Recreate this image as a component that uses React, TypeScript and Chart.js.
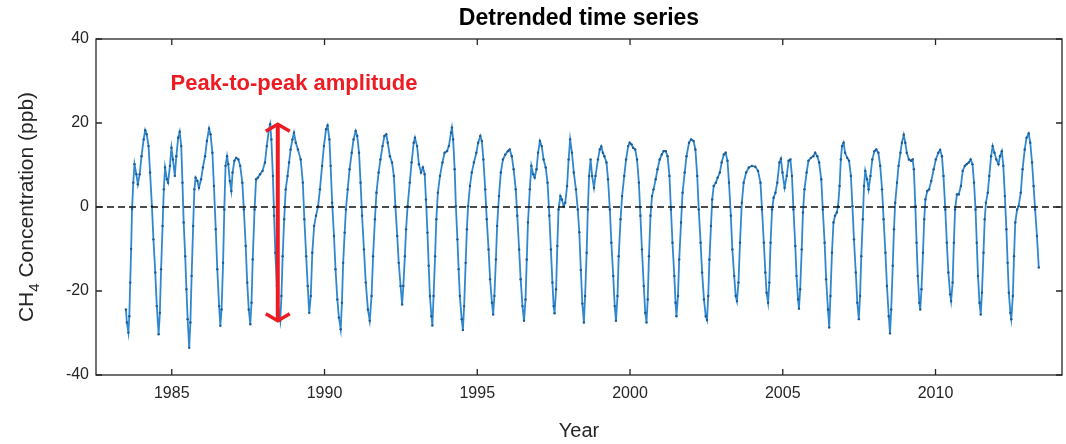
import { useEffect, useRef } from "react";
import { Chart, registerables } from "chart.js";

Chart.register(...registerables);

// Decimal year of each sample (one row per calendar year)
const sampleYears: number[] = [
  1983.5, 1983.53, 1983.58, 1983.61, 1983.64, 1983.67, 1983.7, 1983.74, 1983.78, 1983.84, 1983.89, 1983.95,
  1984.01, 1984.08, 1984.13, 1984.18, 1984.24, 1984.29, 1984.35, 1984.4, 1984.46, 1984.51, 1984.57, 1984.61, 1984.65, 1984.7, 1984.74, 1984.78, 1984.84, 1984.88, 1984.94, 1984.99,
  1985.04, 1985.1, 1985.15, 1985.21, 1985.26, 1985.31, 1985.35, 1985.39, 1985.44, 1985.48, 1985.52, 1985.57, 1985.61, 1985.65, 1985.7, 1985.74, 1985.78, 1985.84, 1985.89, 1985.96,
  1986.02, 1986.09, 1986.15, 1986.22, 1986.27, 1986.33, 1986.38, 1986.44, 1986.49, 1986.55, 1986.59, 1986.63, 1986.68, 1986.72, 1986.76, 1986.81, 1986.85, 1986.9, 1986.95, 1986.99,
  1987.05, 1987.11, 1987.18, 1987.24, 1987.31, 1987.36, 1987.42, 1987.47, 1987.52, 1987.57, 1987.61, 1987.65, 1987.71, 1987.76, 1987.82, 1987.89, 1987.97,
  1988.05, 1988.11, 1988.18, 1988.22, 1988.26, 1988.31, 1988.35, 1988.39, 1988.44, 1988.49, 1988.55, 1988.59, 1988.63, 1988.68, 1988.73, 1988.79, 1988.84, 1988.89, 1988.95,
  1989.0, 1989.06, 1989.13, 1989.22, 1989.29, 1989.34, 1989.4, 1989.45, 1989.5, 1989.55, 1989.6, 1989.66, 1989.72, 1989.79, 1989.85, 1989.92, 1989.98,
  1990.05, 1990.1, 1990.16, 1990.2, 1990.25, 1990.31, 1990.36, 1990.42, 1990.47, 1990.53, 1990.57, 1990.61, 1990.66, 1990.7, 1990.76, 1990.82, 1990.89, 1990.95,
  1991.02, 1991.07, 1991.13, 1991.18, 1991.23, 1991.29, 1991.35, 1991.42, 1991.48, 1991.54, 1991.59, 1991.65, 1991.7, 1991.77, 1991.83, 1991.9, 1991.96,
  1992.02, 1992.07, 1992.14, 1992.21, 1992.27, 1992.32, 1992.38, 1992.43, 1992.49, 1992.54, 1992.58, 1992.63, 1992.67, 1992.72, 1992.79, 1992.85, 1992.92, 1992.96,
  1993.03, 1993.09, 1993.16, 1993.22, 1993.28, 1993.32, 1993.37, 1993.41, 1993.45, 1993.5, 1993.53, 1993.57, 1993.62, 1993.66, 1993.71, 1993.78, 1993.86, 1993.93,
  1994.01, 1994.07, 1994.14, 1994.17, 1994.21, 1994.26, 1994.3, 1994.35, 1994.39, 1994.43, 1994.49, 1994.53, 1994.57, 1994.62, 1994.66, 1994.7, 1994.76, 1994.82, 1994.89, 1994.97,
  1995.03, 1995.1, 1995.15, 1995.2, 1995.26, 1995.31, 1995.37, 1995.42, 1995.48, 1995.52, 1995.56, 1995.61, 1995.65, 1995.71, 1995.77, 1995.84, 1995.92,
  1996.0, 1996.06, 1996.13, 1996.19, 1996.26, 1996.31, 1996.37, 1996.42, 1996.48, 1996.53, 1996.58, 1996.62, 1996.66, 1996.72, 1996.77, 1996.83, 1996.88, 1996.94, 1996.99,
  1997.05, 1997.11, 1997.17, 1997.24, 1997.3, 1997.36, 1997.41, 1997.46, 1997.5, 1997.53, 1997.58, 1997.62, 1997.66, 1997.72, 1997.77, 1997.83, 1997.88, 1997.94, 1997.99,
  1998.04, 1998.1, 1998.16, 1998.23, 1998.29, 1998.34, 1998.39, 1998.44, 1998.49, 1998.53, 1998.58, 1998.62, 1998.66, 1998.71, 1998.76, 1998.82, 1998.87, 1998.95,
  1999.01, 1999.06, 1999.11, 1999.16, 1999.23, 1999.28, 1999.34, 1999.39, 1999.45, 1999.5, 1999.54, 1999.59, 1999.63, 1999.69, 1999.74, 1999.81, 1999.87, 1999.94, 1999.99,
  2000.05, 2000.1, 2000.17, 2000.23, 2000.29, 2000.34, 2000.39, 2000.45, 2000.5, 2000.54, 2000.58, 2000.62, 2000.67, 2000.72, 2000.77, 2000.84, 2000.9, 2000.97,
  2001.04, 2001.1, 2001.17, 2001.23, 2001.29, 2001.34, 2001.39, 2001.45, 2001.49, 2001.52, 2001.57, 2001.61, 2001.67, 2001.72, 2001.79, 2001.85, 2001.93,
  2002.0, 2002.08, 2002.14, 2002.2, 2002.25, 2002.31, 2002.36, 2002.42, 2002.48, 2002.52, 2002.56, 2002.6, 2002.65, 2002.69, 2002.74, 2002.81, 2002.87, 2002.94,
  2003.0, 2003.07, 2003.13, 2003.19, 2003.24, 2003.3, 2003.35, 2003.41, 2003.46, 2003.5, 2003.55, 2003.6, 2003.66, 2003.72, 2003.8, 2003.89, 2003.99,
  2004.1, 2004.19, 2004.27, 2004.32, 2004.38, 2004.43, 2004.47, 2004.52, 2004.56, 2004.6, 2004.65, 2004.7, 2004.76, 2004.82, 2004.89, 2004.94, 2004.99,
  2005.06, 2005.13, 2005.19, 2005.25, 2005.3, 2005.35, 2005.41, 2005.45, 2005.5, 2005.53, 2005.57, 2005.62, 2005.66, 2005.71, 2005.78, 2005.84, 2005.92,
  2006.0, 2006.06, 2006.13, 2006.19, 2006.26, 2006.31, 2006.37, 2006.42, 2006.48, 2006.52, 2006.56, 2006.61, 2006.66, 2006.71, 2006.77, 2006.81, 2006.86, 2006.9, 2006.94, 2006.99,
  2007.04, 2007.11, 2007.17, 2007.23, 2007.28, 2007.33, 2007.39, 2007.44, 2007.49, 2007.53, 2007.57, 2007.62, 2007.66, 2007.7, 2007.76, 2007.81, 2007.87, 2007.93,
  2008.0, 2008.06, 2008.13, 2008.19, 2008.25, 2008.3, 2008.36, 2008.41, 2008.47, 2008.51, 2008.55, 2008.6, 2008.64, 2008.68, 2008.74, 2008.79, 2008.85, 2008.9, 2008.96,
  2009.01, 2009.06, 2009.13, 2009.2, 2009.25, 2009.29, 2009.34, 2009.38, 2009.42, 2009.47, 2009.5, 2009.54, 2009.59, 2009.63, 2009.67, 2009.73, 2009.79, 2009.86, 2009.94,
  2010.01, 2010.09, 2010.15, 2010.21, 2010.26, 2010.32, 2010.37, 2010.42, 2010.48, 2010.51, 2010.56, 2010.6, 2010.64, 2010.7, 2010.76, 2010.83, 2010.89, 2010.96,
  2011.02, 2011.09, 2011.15, 2011.21, 2011.26, 2011.31, 2011.35, 2011.39, 2011.44, 2011.48, 2011.52, 2011.57, 2011.61, 2011.65, 2011.71, 2011.76, 2011.82, 2011.87, 2011.93, 2011.99,
  2012.06, 2012.11, 2012.17, 2012.22, 2012.27, 2012.32, 2012.36, 2012.4, 2012.45, 2012.48, 2012.53, 2012.57, 2012.61, 2012.67, 2012.72, 2012.79, 2012.85, 2012.92, 2012.98,
  2013.05, 2013.1, 2013.16, 2013.21, 2013.26, 2013.32, 2013.38,
];

// Detrended CH4 concentration (ppb), same row layout as sampleYears
const ch4Detrended: number[] = [
  -24.4, -27.5, -29.9, -26.0, -18.0, -10.0, -0.5, 5.8, 10.2, 7.8, 5.4, 7.8,
  12.1, 16.1, 18.3, 17.3, 14.5, 8.2, 0.2, -7.7, -15.6, -23.6, -30.3, -25.2, -14.8, -4.5, 4.2, 9.4, 6.6, 5.8, 9.8, 14.1,
  11.3, 7.4, 12.1, 16.5, 17.9, 14.5, 5.8, -3.7, -11.7, -19.6, -26.7, -33.5, -27.5, -16.4, -4.5, 4.2, 7.0, 6.2, 4.6, 6.6,
  9.4, 12.1, 15.7, 18.7, 17.3, 12.9, 5.0, -5.3, -14.8, -23.6, -28.3, -24.4, -13.3, -0.6, 9.8, 12.1, 10.2, 6.2, 3.8, 8.2,
  11.0, 11.7, 11.3, 9.8, 5.8, -0.6, -9.3, -18.0, -24.4, -27.9, -22.8, -12.5, -0.6, 6.6, 7.0, 7.8, 8.6,
  10.6, 14.5, 18.5, 19.7, 16.1, 7.4, -2.1, -10.9, -18.8, -24.4, -27.1, -21.2, -11.7, -2.9, 4.2, 7.4, 10.6, 13.7, 16.1,
  17.7, 15.3, 13.7, 11.3, 5.8, -2.9, -11.7, -18.8, -25.2, -21.2, -10.9, -4.5, -2.1, 0.2, 4.2, 9.8, 14.5,
  18.5, 19.4, 16.1, 9.8, 1.0, -6.9, -14.8, -22.0, -26.3, -29.1, -22.8, -13.3, -6.1, -0.6, 4.2, 9.0, 12.9, 16.1,
  18.1, 16.9, 12.9, 5.8, -2.1, -10.1, -18.0, -24.4, -27.1, -21.2, -11.7, -2.9, 3.4, 8.2, 11.3, 14.5, 16.9,
  17.3, 15.3, 12.1, 10.6, 7.4, 0.2, -6.9, -13.3, -18.8, -23.2, -18.8, -11.7, -5.3, 0.2, 5.8, 10.6, 15.3, 16.5,
  14.5, 10.2, 8.2, 9.4, 7.8, 1.8, -6.1, -14.0, -21.2, -26.0, -28.2, -21.2, -11.7, -2.9, 3.4, 7.4, 10.6, 12.9,
  13.3, 14.5, 17.7, 18.9, 16.1, 9.0, 0.2, -7.7, -14.8, -21.2, -26.7, -29.3, -23.6, -13.3, -5.3, 0.2, 5.0, 8.2, 10.6, 12.9,
  15.3, 16.9, 15.7, 11.3, 4.2, -2.9, -10.1, -17.2, -22.8, -25.6, -21.2, -12.5, -4.5, 2.6, 8.2, 11.3, 12.5,
  13.3, 13.7, 12.1, 9.0, 4.2, -2.1, -10.1, -17.2, -23.6, -27.1, -22.0, -12.5, -3.7, 4.2, 9.8, 7.8, 7.0, 9.0, 12.9,
  15.7, 14.5, 11.3, 9.4, 5.8, -2.1, -10.1, -18.0, -23.6, -25.3, -19.6, -9.3, -0.6, 2.6, 1.8, 0.2, 1.0, 5.0, 11.3,
  16.1, 12.9, 8.2, 4.2, -0.6, -6.0, -15.0, -23.0, -27.5, -21.2, -10.9, -0.6, 7.4, 11.3, 7.4, 4.6, 7.4, 11.3,
  13.7, 14.4, 12.9, 12.1, 10.6, 6.6, -0.6, -8.5, -16.4, -23.6, -27.1, -21.2, -11.7, -2.9, 2.6, 7.4, 11.3, 14.5, 15.3,
  14.9, 14.1, 13.7, 11.3, 5.8, -2.1, -10.1, -18.8, -25.2, -27.5, -22.0, -11.7, -2.1, 2.6, 4.2, 6.6, 9.0, 11.3,
  12.5, 13.3, 13.3, 12.1, 7.4, -0.6, -8.5, -16.4, -22.8, -26.0, -21.2, -12.5, -3.7, 3.4, 8.2, 12.1, 15.3,
  16.1, 15.7, 13.7, 7.4, -0.6, -8.5, -15.6, -22.0, -26.0, -26.9, -21.2, -12.5, -4.5, 1.8, 5.0, 5.8, 7.0, 8.2,
  10.6, 12.5, 12.9, 11.0, 5.8, -2.1, -10.1, -16.4, -21.2, -22.4, -18.0, -8.5, 1.0, 5.8, 8.2, 9.4, 9.8,
  9.6, 8.6, 5.8, -0.6, -8.5, -15.6, -20.4, -22.8, -18.0, -8.5, -0.6, 2.2, 3.4, 5.8, 10.6, 11.5, 8.2,
  4.6, 7.4, 11.0, 11.3, 7.4, -0.6, -9.3, -16.4, -22.0, -24.2, -19.6, -10.1, -1.3, 4.2, 8.2, 11.0, 11.7,
  12.1, 12.9, 12.1, 10.6, 6.6, -0.6, -8.5, -17.2, -24.4, -28.7, -21.2, -10.9, -3.7, -2.1, -1.3, 0.2, 5.0, 11.3, 14.5, 15.3,
  12.9, 11.7, 11.0, 7.4, 0.2, -7.7, -15.6, -22.8, -26.7, -21.2, -11.7, -2.9, 5.0, 8.6, 6.6, 4.2, 7.4, 11.3,
  13.3, 13.7, 12.9, 9.8, 4.2, -2.9, -10.9, -18.8, -26.0, -30.1, -24.4, -14.0, -5.3, 1.0, 5.8, 9.8, 12.9, 15.3, 17.2,
  15.3, 12.9, 11.3, 11.0, 11.3, 9.0, 0.2, -8.5, -16.4, -22.8, -24.4, -19.6, -10.9, -2.9, 1.8, 3.8, 4.2, 6.2, 9.0,
  11.3, 12.9, 13.6, 12.1, 7.4, -0.6, -8.5, -15.6, -20.8, -22.4, -18.0, -8.5, -0.6, 3.0, 3.0, 5.0, 8.6, 9.8,
  10.2, 10.6, 11.3, 10.2, 5.8, -0.6, -8.5, -16.4, -22.8, -25.6, -20.4, -10.9, -2.9, 1.0, 3.4, 7.4, 12.1, 14.5, 12.9, 11.3,
  10.2, 12.1, 13.3, 9.8, 2.6, -5.3, -13.3, -20.4, -25.2, -26.7, -21.2, -11.7, -3.7, -0.6, 0.2, 3.4, 9.0, 13.7, 16.5,
  17.5, 15.3, 10.6, 5.0, -0.6, -6.9, -14.4,
];

const yearTicks: number[] = [1985, 1990, 1995, 2000, 2005, 2010];
const ppbTicks: number[] = [-40, -20, 0, 20, 40];
const yearRange: number[] = [1982.52, 2014.14];
const ppbRange: number[] = [-40, 40];

// Double-headed arrow spanning the 1988 seasonal cycle
const amplitudeYear = 1988.47;
const amplitudePeak = 19.7;
const amplitudeTrough = -27.1;
const amplitudeLabel = "Peak-to-peak amplitude";
const amplitudeLabelAt = { year: 1989.0, ppb: 29.4 };

const chartTitle = "Detrended time series";
const xAxisTitle = "Year";
const yAxisTitleParts = ["CH", "4", " Concentration (ppb)"];

const FONT = "'Liberation Sans', Arial, Helvetica, sans-serif";
const AXIS_COLOR = "#262626";
const LINE_COLOR = "#2f88cf";
const POINT_COLOR = "#1c5a90";
const ANNOT_COLOR = "#ee1b23";

const decorations = {
  id: "decorations",
  afterDatasetsDraw(chart: any) {
    const { ctx, chartArea: a, scales } = chart;
    const xs = scales.x;
    const ys = scales.y;
    ctx.save();

    // zero reference line
    const y0 = ys.getPixelForValue(0);
    ctx.strokeStyle = "#111";
    ctx.lineWidth = 1.4;
    ctx.setLineDash([7, 4]);
    ctx.beginPath();
    ctx.moveTo(a.left, y0);
    ctx.lineTo(a.right, y0);
    ctx.stroke();
    ctx.setLineDash([]);

    // box frame
    ctx.strokeStyle = AXIS_COLOR;
    ctx.lineWidth = 1.3;
    ctx.strokeRect(a.left, a.top, a.right - a.left, a.bottom - a.top);

    // inward tick marks on all four sides
    const tl = 6;
    ctx.beginPath();
    for (const v of yearTicks) {
      const px = xs.getPixelForValue(v);
      ctx.moveTo(px, a.bottom);
      ctx.lineTo(px, a.bottom - tl);
      ctx.moveTo(px, a.top);
      ctx.lineTo(px, a.top + tl);
    }
    for (const v of ppbTicks) {
      const py = ys.getPixelForValue(v);
      ctx.moveTo(a.left, py);
      ctx.lineTo(a.left + tl, py);
      ctx.moveTo(a.right, py);
      ctx.lineTo(a.right - tl, py);
    }
    ctx.stroke();

    // amplitude arrow
    const ax = xs.getPixelForValue(amplitudeYear);
    const top = ys.getPixelForValue(amplitudePeak);
    const bot = ys.getPixelForValue(amplitudeTrough);
    ctx.strokeStyle = ANNOT_COLOR;
    ctx.lineWidth = 4;
    ctx.lineCap = "butt";
    ctx.lineJoin = "miter";
    ctx.beginPath();
    ctx.moveTo(ax, top + 1);
    ctx.lineTo(ax, bot - 1);
    ctx.stroke();
    ctx.lineWidth = 3.5;
    ctx.beginPath();
    ctx.moveTo(ax - 12, top + 7);
    ctx.lineTo(ax, top);
    ctx.lineTo(ax + 12, top + 7);
    ctx.moveTo(ax - 12, bot - 7);
    ctx.lineTo(ax, bot);
    ctx.lineTo(ax + 12, bot - 7);
    ctx.stroke();

    // amplitude label
    ctx.fillStyle = ANNOT_COLOR;
    ctx.font = `bold 22px ${FONT}`;
    ctx.textAlign = "center";
    ctx.textBaseline = "middle";
    ctx.fillText(
      amplitudeLabel,
      xs.getPixelForValue(amplitudeLabelAt.year),
      ys.getPixelForValue(amplitudeLabelAt.ppb)
    );

    // title
    ctx.fillStyle = "#000";
    ctx.font = `bold 23px ${FONT}`;
    ctx.textAlign = "center";
    ctx.textBaseline = "middle";
    ctx.fillText(chartTitle, (a.left + a.right) / 2, 19);

    // y-axis title with subscript
    const mainFont = `21px ${FONT}`;
    const subFont = `15px ${FONT}`;
    ctx.font = mainFont;
    const w0 = ctx.measureText(yAxisTitleParts[0]).width;
    const w2 = ctx.measureText(yAxisTitleParts[2]).width;
    ctx.font = subFont;
    const w1 = ctx.measureText(yAxisTitleParts[1]).width;
    const total = w0 + w1 + w2;
    ctx.translate(33, (a.top + a.bottom) / 2);
    ctx.rotate(-Math.PI / 2);
    ctx.fillStyle = AXIS_COLOR;
    ctx.textAlign = "left";
    ctx.textBaseline = "alphabetic";
    let cx = -total / 2;
    ctx.font = mainFont;
    ctx.fillText(yAxisTitleParts[0], cx, 0);
    cx += w0;
    ctx.font = subFont;
    ctx.fillText(yAxisTitleParts[1], cx, 6);
    cx += w1;
    ctx.font = mainFont;
    ctx.fillText(yAxisTitleParts[2], cx, 0);

    ctx.restore();
  },
};

export default function App() {
  const canvasRef = useRef<HTMLCanvasElement | null>(null);

  useEffect(() => {
    const canvas = canvasRef.current;
    if (!canvas) return;
    const n = Math.min(sampleYears.length, ch4Detrended.length);
    const points = [];
    for (let i = 0; i < n; i++) points.push({ x: sampleYears[i], y: ch4Detrended[i] });

    const chart = new Chart(canvas, {
      type: "line",
      data: {
        datasets: [
          {
            data: points,
            borderColor: LINE_COLOR,
            borderWidth: 1.8,
            pointRadius: 1.2,
            pointBorderWidth: 0,
            pointBackgroundColor: POINT_COLOR,
            tension: 0,
          },
        ],
      },
      options: {
        responsive: false,
        animation: false,
        devicePixelRatio: 1,
        layout: { padding: { top: 39, right: 1, left: 0, bottom: 0 } },
        plugins: {
          legend: { display: false },
          tooltip: { enabled: false },
          title: { display: false },
        },
        scales: {
          x: {
            type: "linear",
            min: yearRange[0],
            max: yearRange[1],
            grid: { display: false, drawTicks: false },
            border: { display: false },
            afterBuildTicks: (s: any) => {
              s.ticks = yearTicks.map((v) => ({ value: v }));
            },
            afterFit: (s: any) => {
              s.height = 69;
            },
            ticks: {
              autoSkip: false,
              maxRotation: 0,
              padding: 9,
              color: AXIS_COLOR,
              font: { family: FONT, size: 16 },
              callback: (v: any) => String(v),
            },
            title: {
              display: true,
              text: xAxisTitle,
              color: AXIS_COLOR,
              font: { family: FONT, size: 20 },
              padding: { top: 0, bottom: 1 },
            },
          },
          y: {
            type: "linear",
            min: ppbRange[0],
            max: ppbRange[1],
            grid: { display: false, drawTicks: false },
            border: { display: false },
            afterBuildTicks: (s: any) => {
              s.ticks = ppbTicks.map((v) => ({ value: v }));
            },
            afterFit: (s: any) => {
              s.width = 96;
            },
            ticks: {
              padding: 7,
              color: AXIS_COLOR,
              font: { family: FONT, size: 16 },
              callback: (v: any) => String(v),
            },
          },
        },
      },
      plugins: [decorations],
    });
    return () => chart.destroy();
  }, []);

  return (
    <div style={{ position: "absolute", left: 0, top: 0, width: 1066, height: 444, background: "#fff" }}>
      <canvas ref={canvasRef} width={1066} height={444} style={{ display: "block" }} />
    </div>
  );
}
